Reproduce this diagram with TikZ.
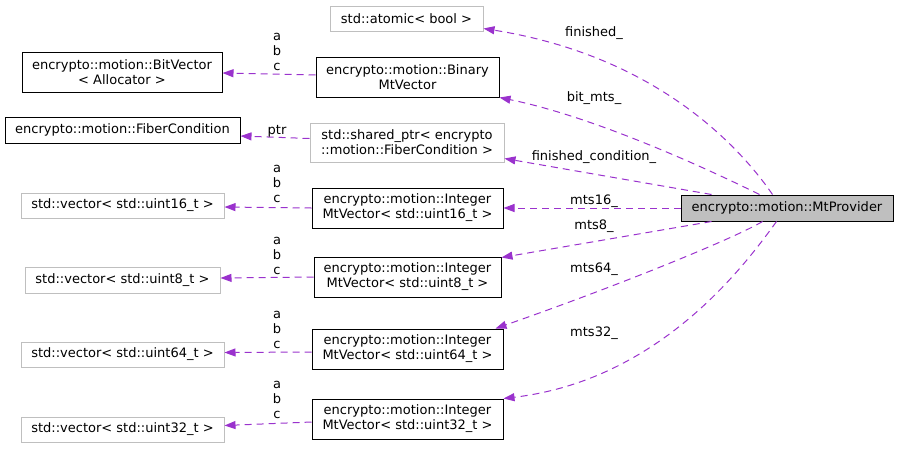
\documentclass[tikz,border=0pt]{standalone}
\usepackage{fontspec}
\setmainfont{DejaVu Sans}
\usetikzlibrary{arrows.meta}
\definecolor{relcol}{HTML}{9A32CD}
\definecolor{extgray}{HTML}{BFBFBF}

\begin{document}
\begin{tikzpicture}[x=1pt,y=-1pt,
  every node/.style={font=\fontsize{13}{15}\selectfont},
  cls/.style={draw=black,line width=1pt,fill=white,align=center,inner sep=0pt},
  ext/.style={cls,draw=extgray},
  main/.style={cls,fill=extgray},
  rel/.style={draw=relcol,line width=1pt,dash pattern=on 7pt off 5pt,
    -{Triangle[length=11pt,width=8pt]}},
  lbl/.style={inner sep=0pt,anchor=base},
  abc/.style={inner sep=0pt,align=center}]
\useasboundingbox (0,0) rectangle (899,448);
%
       \node [ext, minimum width=153pt, minimum height=25pt] at (406.5,18.5) (atomic) {std::atomic< bool >};
          \node [cls, minimum width=200pt, minimum height=40pt] at (122,72) (bitvec) {encrypto::motion::BitVector\\< Allocator >};
             \node [cls, minimum width=183pt, minimum height=40pt] at (407.5,77) (binary) {encrypto::motion::Binary\\MtVector};
              \node [cls, minimum width=235pt, minimum height=26pt] at (122.5,130) (fiber) {encrypto::motion::FiberCondition};
               \node [ext, minimum width=194pt, minimum height=39pt] at (407,142.5) (shptr) {std::shared\_ptr< encrypto\\::motion::FiberCondition >};
                \node [ext, minimum width=203pt, minimum height=25pt] at (122.5,205.5) (vec16) {std::vector< std::uint16\_t >};
                \node [cls, minimum width=191pt, minimum height=40pt] at (407.5,208) (int16) {encrypto::motion::Integer\\MtVector< std::uint16\_t >};
                  \node [ext, minimum width=195pt, minimum height=26pt] at (122.5,280) (vec8) {std::vector< std::uint8\_t >};
                   \node [cls, minimum width=187pt, minimum height=40pt] at (407.5,277) (int8) {encrypto::motion::Integer\\MtVector< std::uint8\_t >};
                     \node [ext, minimum width=203pt, minimum height=25pt] at (122.5,354.5) (vec64) {std::vector< std::uint64\_t >};
                       \node [cls, minimum width=191pt, minimum height=40pt] at (407.5,349) (int64) {encrypto::motion::Integer\\MtVector< std::uint64\_t >};
                        \node [ext, minimum width=203pt, minimum height=25pt] at (122.5,429.5) (vec32) {std::vector< std::uint32\_t >};
                         \node [cls, minimum width=191pt, minimum height=40pt] at (407.5,419) (int32) {encrypto::motion::Integer\\MtVector< std::uint32\_t >};
%
             \node [main, minimum width=212pt, minimum height=26pt] at (787,208) (prov) {encrypto::motion::MtProvider};
%
%
\draw[rel] ([yshift=2pt]binary.west) -- ([yshift=-1pt]bitvec.east);
\draw[rel] ([yshift=4pt]shptr.west) -- ([yshift=-6pt]fiber.east);
\draw[rel] (int16.west) -- ([yshift=-1.5pt]vec16.east);
\draw[rel] (int8.west) -- ([yshift=2pt]vec8.east);
\draw[rel] ([yshift=-3pt]int64.west) -- ([yshift=2pt]vec64.east);
\draw[rel] ([yshift=-3pt]int32.west) -- ([yshift=4pt]vec32.east);
\node [abc] at (277,52) (lbin) {a\\b\\c};
\node [lbl] at (277,134) (lptr) {ptr};
\node [abc] at (277,184) (lv16) {a\\b\\c};
\node [abc] at (277,256) (lv8) {a\\b\\c};
\node [abc] at (277,330) (lv64) {a\\b\\c};
\node [abc] at (277,400) (lv32) {a\\b\\c};
%
\draw[rel] ([xshift=92pt]prov.north west) .. controls (735,140) and (650,55) .. ([yshift=3pt]atomic.south east);
\draw[rel] ([xshift=79pt]prov.north west) .. controls (720,175) and (600,118) .. (binary.south east);
\draw[rel] ([xshift=31pt]prov.north west) -- ([yshift=4pt]shptr.south east);
\draw[rel] (prov.west) -- (int16.east);
\draw[rel] ([xshift=31pt]prov.south west) -- ([yshift=-1pt]int8.north east);
\draw[rel] ([xshift=82pt]prov.south west) .. controls (735,238) and (620,285) .. ([xshift=-8pt]int64.north east);
\draw[rel] ([xshift=96pt]prov.south west) .. controls (745,265) and (660,380) .. (int32.north east);
%
\node [lbl] at (594,36) (lfin) {finished\_};
\node [lbl] at (594,101) (lbit) {bit\_mts\_};
\node [lbl] at (594,160) (lcond) {finished\_condition\_};
\node [lbl] at (594,204) (l16) {mts16\_};
\node [lbl] at (594,229) (l8) {mts8\_};
\node [lbl] at (594,272) (l64) {mts64\_};
\node [lbl] at (594,336) (l32) {mts32\_};

\end{tikzpicture}
\end{document}
